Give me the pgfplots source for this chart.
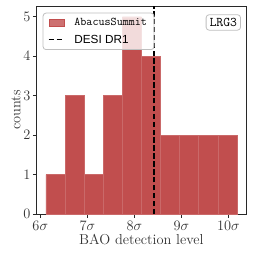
\documentclass[border=0pt]{standalone}
\usepackage{fontspec}
\setsansfont{Liberation Sans}
\usepackage{pgfplots}
\pgfplotsset{compat=1.18}
\definecolor{barred}{RGB}{193,78,78}
\definecolor{spine}{RGB}{40,40,40}
\begin{document}
\begin{tikzpicture}
\begin{axis}[
  scale only axis,
  width=210pt, height=208pt,
  xmin=5.918, xmax=10.382,
  ymin=0, ymax=5.27,
  xtick={6,7,8,9,10},
  xticklabels={$6\sigma$,$7\sigma$,$8\sigma$,$9\sigma$,$10\sigma$},
  ytick={0,1,2,3,4,5},
  tick align=outside,
  major tick length=3.5pt,
  tick style={spine, line width=0.8pt},
  axis line style={spine, line width=0.8pt},
  xtick pos=bottom, ytick pos=left,
  ticklabel style={font=\fontsize{14.4}{16}\selectfont, text=black!80},
  yticklabel style={xshift=1pt},
  xlabel={BAO detection level},
  ylabel={counts},
  label style={font=\fontsize{14.4}{16}\selectfont, text=black!80},
  xlabel style={yshift=3pt},
  ylabel style={yshift=-4pt},
  legend cell align=left,
  legend style={
    at={(0.03,0.968)}, anchor=north west,
    draw=black!25, line width=0.8pt, rounded corners=3pt,
    fill=white, fill opacity=0.8, text opacity=1, draw opacity=1,
    font=\fontsize{11.75}{13}\selectfont,
    inner xsep=5pt, inner ysep=3pt,
    row sep=4pt,
    /tikz/every odd column/.append style={column sep=8pt},
  },
]
\addplot[ybar interval, fill=barred, draw=barred!85!white, line width=0.3pt,
  legend image code/.code={\fill[barred, sharp corners] (0pt,-3.5pt) rectangle (15pt,3.5pt);}]
  coordinates {
  (6.121,1) (6.527,3) (6.933,1) (7.338,3) (7.744,5)
  (8.150,4) (8.556,2) (8.962,2) (9.367,2) (9.773,2) (10.179,2)
  };
\addlegendentry{\texttt{AbacusSummit}}
\addplot[black, line width=1.3pt, dash pattern=on 5.5pt off 2.4pt,
  legend image code/.code={\draw[black, sharp corners, line width=1.3pt, dash pattern=on 5.5pt off 2.4pt] (0pt,0pt) -- (15pt,0pt);}]
  coordinates {(8.419,0) (8.419,5.27)};
\addlegendentry{\sffamily DESI DR1}
\node[draw=black!25, line width=0.8pt, rounded corners=3pt, fill=white, fill opacity=0.8, text opacity=1, draw opacity=1,
  anchor=north east, inner xsep=3.5pt, inner ysep=3.5pt, font=\fontsize{13.3}{15}\selectfont]
  at (rel axis cs:0.974,0.96) {\texttt{LRG3}};
\end{axis}
\pgfresetboundingbox
\path ([xshift=-36.4pt,yshift=-43pt]current axis.south west) rectangle ([xshift=6.6pt,yshift=6pt]current axis.north east);
\end{tikzpicture}
\end{document}
